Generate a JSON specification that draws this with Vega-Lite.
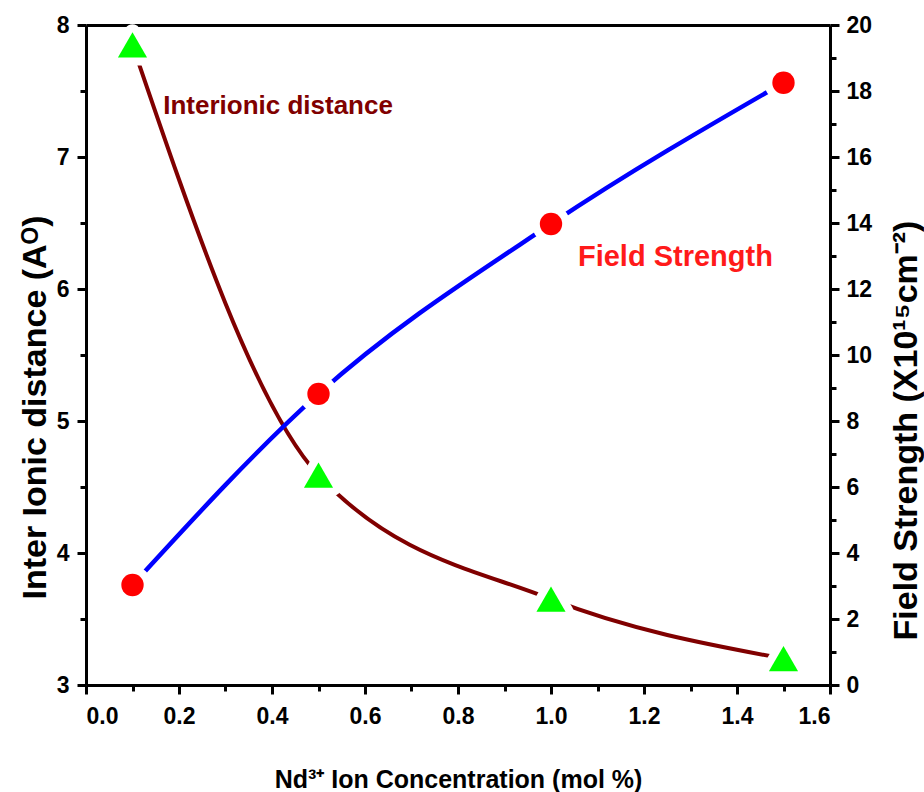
{
  "$schema": "https://vega.github.io/schema/vega-lite/v6.json",
  "width": 744,
  "height": 660,
  "autosize": {"type": "none"},
  "padding": {"left": 86, "top": 25, "right": 94, "bottom": 107},
  "background": "white",
  "config": {
    "view": {"stroke": null},
    "axis": {
      "domainColor": "black",
      "domainWidth": 3,
      "tickColor": "black",
      "tickWidth": 3,
      "labelFont": "Liberation Sans",
      "labelFontWeight": "bold",
      "labelFontSize": 23,
      "labelColor": "black",
      "titleColor": "black",
      "grid": false,
      "zindex": 1
    }
  },
  "datasets": {
    "dist": [
      {"conc": 0.1, "value": 7.85},
      {"conc": 0.5, "value": 4.59},
      {"conc": 1.0, "value": 3.65},
      {"conc": 1.5, "value": 3.2}
    ],
    "field": [
      {"conc": 0.1, "value": 3.03},
      {"conc": 0.5, "value": 8.82},
      {"conc": 1.0, "value": 13.97},
      {"conc": 1.5, "value": 18.25}
    ],
    "labels1": [{"conc": 0.166, "value": 7.39, "text": "Interionic distance"}],
    "labels2": [{"conc": 1.058, "value": 12.97, "text": "Field Strength"}]
  },
  "layer": [
    {
      "encoding": {
        "x": {
          "field": "conc",
          "type": "quantitative",
          "scale": {"domain": [0, 1.6], "nice": false, "zero": false},
          "axis": {
            "orient": "bottom",
            "values": [0, 0.1, 0.2, 0.3, 0.4, 0.5, 0.6, 0.7, 0.8, 0.9, 1.0, 1.1, 1.2, 1.3, 1.4, 1.5, 1.6],
            "format": ".1f",
            "labelExpr": "round(datum.value*10) % 2 == 0 ? datum.label : ''",
            "tickSize": {"condition": {"test": "round(datum.value*10) % 2 == 0", "value": 9}, "value": 6},
            "labelPadding": 11,
            "title": "Nd³⁺ Ion Concentration (mol %)",
            "titleFont": "Liberation Sans",
            "titleFontWeight": "bold",
            "titleFontSize": 25,
            "titleBaseline": "alphabetic",
            "titleY": 102
          }
        },
        "y": {
          "field": "value",
          "type": "quantitative",
          "scale": {"domain": [3, 8], "nice": false, "zero": false},
          "axis": {
            "orient": "left",
            "values": [3, 3.5, 4, 4.5, 5, 5.5, 6, 6.5, 7, 7.5, 8],
            "format": ".1f",
            "labelExpr": "datum.value % 1 == 0 ? format(datum.value, 'd') : ''",
            "tickSize": {"condition": {"test": "datum.value % 1 == 0", "value": 9}, "value": 6},
            "labelPadding": 8,
            "title": "Inter Ionic distance (Aᴼ)",
            "titleFont": "Liberation Sans",
            "titleFontWeight": "bold",
            "titleFontSize": 34,
            "titleAngle": 270,
            "titleAlign": "center",
            "titleBaseline": "alphabetic",
            "titleX": -41,
            "titleY": 382
          }
        }
      },
      "layer": [
        {
          "data": {"name": "dist"},
          "mark": {"type": "line", "color": "#800000", "strokeWidth": 4, "interpolate": "monotone"}
        },
        {
          "data": {"name": "dist"},
          "mark": {"type": "point", "shape": "triangle-up", "size": 850, "filled": true, "fill": "white", "fillOpacity": 1, "stroke": "white", "strokeWidth": 16, "strokeOpacity": 1, "strokeJoin": "round"}
        },
        {
          "data": {"name": "dist"},
          "mark": {"type": "point", "shape": "triangle-up", "size": 850, "filled": true, "fill": "#00FF00", "fillOpacity": 1, "strokeWidth": 0}
        },
        {
          "data": {"name": "labels1"},
          "mark": {"type": "text", "align": "left", "baseline": "middle", "font": "Liberation Sans", "fontWeight": "bold", "fontSize": 26, "color": "#800000"},
          "encoding": {"text": {"field": "text"}}
        }
      ]
    },
    {
      "encoding": {
        "x": {
          "field": "conc",
          "type": "quantitative",
          "scale": {"domain": [0, 1.6], "nice": false, "zero": false},
          "axis": {"orient": "top", "labels": false, "ticks": false, "title": null, "domainWidth": 3}
        },
        "y": {
          "field": "value",
          "type": "quantitative",
          "scale": {"domain": [0, 20], "nice": false, "zero": false},
          "axis": {
            "orient": "right",
            "values": [0, 1, 2, 3, 4, 5, 6, 7, 8, 9, 10, 11, 12, 13, 14, 15, 16, 17, 18, 19, 20],
            "labelExpr": "datum.value % 2 == 0 ? datum.label : ''",
            "tickSize": {"condition": {"test": "datum.value % 2 == 0", "value": 9}, "value": 6},
            "labelPadding": 7,
            "title": "Field Strength (X10¹⁵cm⁻²)",
            "titleFont": "Liberation Sans",
            "titleFontWeight": "bold",
            "titleFontSize": 34,
            "titleAngle": 270,
            "titleAlign": "center",
            "titleBaseline": "alphabetic",
            "titleX": 86,
            "titleY": 405
          }
        }
      },
      "layer": [
        {
          "data": {"name": "field"},
          "mark": {"type": "line", "color": "#0000FF", "strokeWidth": 4.5, "interpolate": "monotone"}
        },
        {
          "data": {"name": "field"},
          "mark": {"type": "point", "shape": "circle", "size": 500, "filled": true, "fill": "white", "fillOpacity": 1, "stroke": "white", "strokeWidth": 16, "strokeOpacity": 1}
        },
        {
          "data": {"name": "field"},
          "mark": {"type": "point", "shape": "circle", "size": 500, "filled": true, "fill": "#FF0000", "fillOpacity": 1, "strokeWidth": 0}
        },
        {
          "data": {"name": "labels2"},
          "mark": {"type": "text", "align": "left", "baseline": "middle", "font": "Liberation Sans", "fontWeight": "bold", "fontSize": 29, "color": "#FF1A1A"},
          "encoding": {"text": {"field": "text"}}
        }
      ]
    }
  ],
  "resolve": {"scale": {"x": "independent", "y": "independent"}, "axis": {"x": "independent", "y": "independent"}}
}
